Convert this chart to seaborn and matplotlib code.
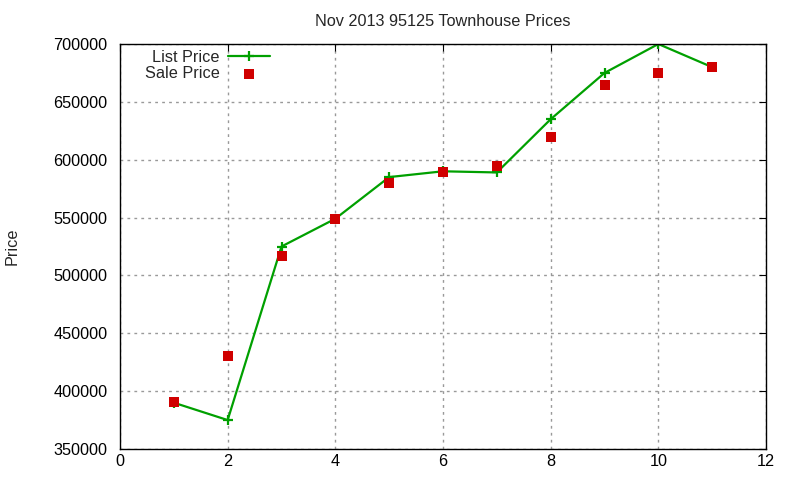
import seaborn as sns
import matplotlib
import matplotlib.pyplot as plt
import pandas as pd

# monthly data, Nov 2013 snapshot
months = [1, 2, 3, 4, 5, 6, 7, 8, 9, 10, 11]
list_price = [390000, 375000, 525000, 549000, 585000, 590000, 589000, 635000, 675000, 700000, 680000]
sale_price = [391000, 430000, 517000, 549000, 580000, 589000, 595000, 620000, 665000, 675000, 680000]

df = pd.DataFrame({'Month': months, 'List': list_price, 'Sale': sale_price})

sns.set_style('white')
plt.rcParams['font.family'] = ['Liberation Sans', 'DejaVu Sans']
matplotlib.rcParams['font.size'] = 11.7

fig = plt.figure(figsize=(8, 4.8), dpi=100)
ax = fig.add_axes([0.15, 0.0646, 0.8075, 0.8437])

green = '#00a000'
sns.lineplot(data=df, x='Month', y='List', ax=ax, color=green, linewidth=1.6,
             marker='+', markersize=7, markeredgewidth=1.6, markeredgecolor=green,
             label='List Price')
sns.scatterplot(data=df, x='Month', y='Sale', ax=ax, color='#d00000', marker='s',
                s=42, linewidth=0, label='Sale Price', zorder=3)

ax.set_xlim(0, 12)
ax.set_ylim(350000, 700000)
ax.set_xticks(range(0, 13, 2))
ax.set_yticks(range(350000, 700001, 50000))
ax.ticklabel_format(axis='y', style='plain')
ax.grid(True, linestyle=(0, (2, 3)), color='#999999', linewidth=1)
ax.tick_params(direction='in', top=True, right=True, length=5, labelsize=11.7, colors='black')
ax.tick_params(axis='y', pad=9)
for s in ax.spines.values():
    s.set_color('black')
    s.set_linewidth(1)

ax.set_xlabel('')
ax.set_ylabel('Price', fontsize=11.7)
ax.yaxis.set_label_coords(-0.155, 0.5)
ax.set_title('Nov 2013 95125 Townhouse Prices', fontsize=11.7, pad=13)

ax.legend(loc='upper left', bbox_to_anchor=(0.038, 0.985), frameon=False, markerfirst=False,
          handlelength=2.6, handletextpad=0.5, fontsize=11.7, labelspacing=0.05,
          borderaxespad=0, borderpad=0)

plt.savefig('out.png')
